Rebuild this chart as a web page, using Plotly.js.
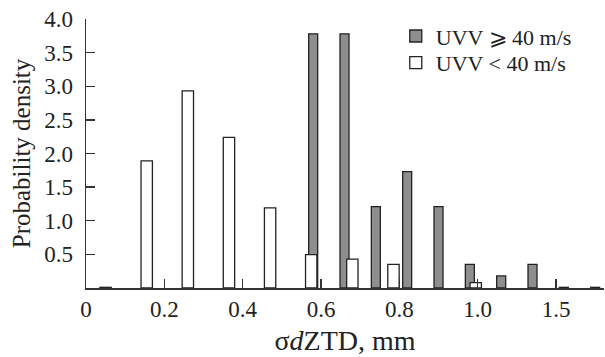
<!DOCTYPE html>
<html>
<head>
<meta charset="utf-8">
<script src="https://cdn.plot.ly/plotly-3.0.1.min.js"></script>
<style>html,body{margin:0;padding:0;background:#fff;}#chart{width:605px;height:357px;}</style>
</head>
<body>
<div id="chart"></div>
<script>
// Bin positions on the (index-like) x axis, and probability densities
var grayPos   = [0.58, 0.66, 0.74, 0.82, 0.90, 0.98, 1.06, 1.14, 1.22, 1.30];
var grayVals  = [3.78, 3.78, 1.21, 1.73, 1.21, 0.35, 0.18, 0.35, 0.01, 0.01];
var whitePos  = [0.05, 0.155, 0.26, 0.365, 0.47, 0.575, 0.68, 0.785, 0.995];
var whiteVals = [0.01, 1.89, 2.93, 2.24, 1.19, 0.495, 0.43, 0.35, 0.08];
var xTickVals = [0, 0.2, 0.4, 0.6, 0.8, 1.0, 1.2];
var xTickText = ["0", "0.2", "0.4", "0.6", "0.8", "1.0", "1.5"];
var yTickVals = [0.5, 1.0, 1.5, 2.0, 2.5, 3.0, 3.5, 4.0];
var seriesNames = ["UVV \u2A7E 40 m/s", "UVV < 40 m/s"];

var font = "Liberation Serif, Times New Roman, serif";
var ink = "#222";

var traces = [
  {type: "bar", x: grayPos, y: grayVals, name: seriesNames[0], width: 0.023, legend: "legend",
   marker: {color: "#8e8e8e", line: {color: ink, width: 1.3}}},
  {type: "bar", x: whitePos, y: whiteVals, name: seriesNames[1], width: 0.029, legend: "legend2",
   marker: {color: "#ffffff", line: {color: ink, width: 1.3}}}
];

var legendStyle = function (yPos) {
  return {x: 0.598, y: yPos, xanchor: "left", yanchor: "middle",
          font: {family: font, size: 22, color: ink}, bgcolor: "rgba(0,0,0,0)",
          itemwidth: 30};
};

var layout = {
  width: 605, height: 357,
  margin: {l: 86, r: 1, t: 19, b: 69, pad: 0},
  paper_bgcolor: "#fff", plot_bgcolor: "#fff",
  barmode: "overlay",
  showlegend: true,
  font: {family: font, color: ink, size: 23},
  legend: legendStyle(0.936),
  legend2: legendStyle(0.837),
  xaxis: {
    range: [0, 1.3225], showgrid: false, zeroline: false,
    showline: true, linecolor: "#333", linewidth: 1.5,
    ticks: "inside", ticklen: 9, tickwidth: 1.3, tickcolor: "#333",
    tickvals: xTickVals, ticktext: xTickText,
    tickfont: {family: font, size: 23, color: ink},
    title: {text: "\u03C3<i>d</i>ZTD, mm", font: {family: font, size: 28, color: ink}, standoff: 9}
  },
  yaxis: {
    range: [0, 4], showgrid: false, zeroline: false,
    showline: true, linecolor: "#333", linewidth: 1.5,
    ticks: "inside", ticklen: 9, tickwidth: 1.3, tickcolor: "#333",
    tickvals: yTickVals, tickformat: ".1f",
    ticklabelstandoff: 7,
    tickfont: {family: font, size: 23, color: ink},
    title: {text: "Probability density", font: {family: font, size: 25, color: ink}, standoff: 6}
  }
};

Plotly.newPlot("chart", traces, layout, {staticPlot: true, displayModeBar: false});
</script>
</body>
</html>
